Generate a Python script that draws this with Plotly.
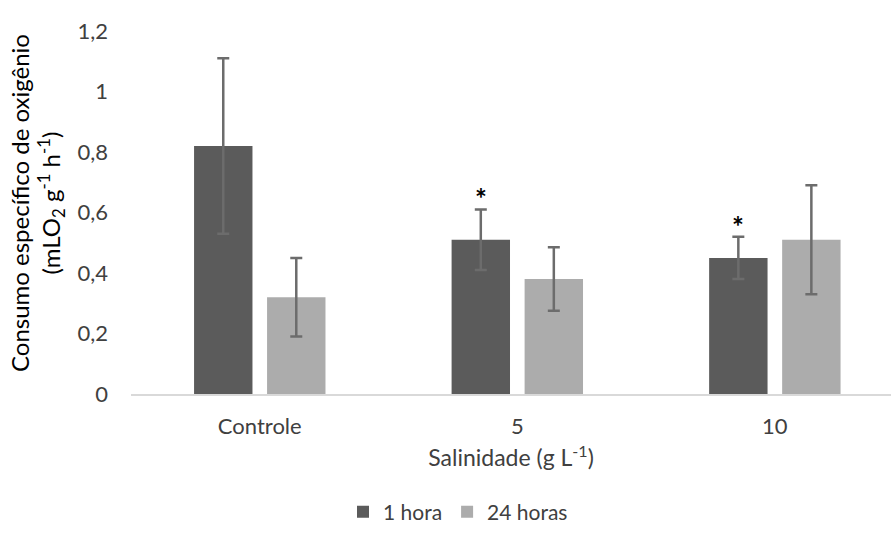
import plotly.graph_objects as go

# Oxygen consumption by salinity, measured after 1 h and 24 h
categories = ["Controle", "5", "10"]
series_names = ["1 hora", "24 horas"]
values_1h = [0.82, 0.51, 0.45]
errors_1h = [0.29, 0.10, 0.07]
values_24h = [0.32, 0.38, 0.51]
errors_24h = [0.13, 0.105, 0.18]
significant_1h = ["", "*", "*"]

y_ticks = [0, 0.2, 0.4, 0.6, 0.8, 1.0, 1.2]
y_tick_labels = ["0", "0,2", "0,4", "0,6", "0,8", "1", "1,2"]

FONT = "Lato"
TEXT = "#404040"
DARK = "#5b5b5b"
LIGHT = "#acacac"
ERR = "#6c6c6c"

fig = go.Figure()
for name, vals, errs, color in [
    (series_names[0], values_1h, errors_1h, DARK),
    (series_names[1], values_24h, errors_24h, LIGHT),
]:
    fig.add_trace(go.Bar(
        x=categories, y=vals, name=name,
        marker=dict(color=color, line=dict(width=0)),
        error_y=dict(type="data", array=errs, visible=True,
                     color=ERR, thickness=2.5, width=6),
    ))

# Significance marks above the 1-hour bars (x given as category index)
for i, (v, e, mark) in enumerate(zip(values_1h, errors_1h, significant_1h)):
    if mark:
        fig.add_annotation(x=i, y=v + e, xref="x", yref="y", text="<b>" + mark + "</b>",
                           showarrow=False, xshift=-36.5, yshift=-8,
                           yanchor="bottom",
                           font=dict(family=FONT, size=28, color="#000000"))

# Y-axis title, two rotated lines
fig.add_annotation(
    xref="paper", yref="paper", x=(37 - 131) / 760, y=(394 - 203) / 363,
    text="Consumo específico de oxigênio<br>(mLO<sub>2</sub> g<sup>-1</sup> h<sup>-1</sup>)",
    textangle=-90, showarrow=False, xanchor="center", yanchor="middle",
    align="center",
    font=dict(family=FONT, size=24, color="#000000"),
)

fig.update_layout(
    width=891, height=545,
    margin=dict(l=131, r=0, t=31, b=151),
    paper_bgcolor="white", plot_bgcolor="white",
    barmode="group", bargap=0.433, bargroupgap=0.2,
    font=dict(family=FONT, size=22, color=TEXT),
    showlegend=True,
    legend=dict(orientation="h", x=(458 - 131) / 760, y=-0.325, xanchor="center",
                yanchor="middle", font=dict(family=FONT, size=21, color=TEXT),
                itemwidth=30, tracegroupgap=0),
    xaxis=dict(type="category", range=[-0.5, 2.451], showgrid=False,
               showline=True, linecolor="#d9d9d9", linewidth=1.5,
               ticks="", ticklabelstandoff=12,
               tickfont=dict(family=FONT, size=22, color=TEXT),
               title=dict(text="Salinidade (g L<sup>-1</sup>)", standoff=12,
                          font=dict(family=FONT, size=23, color=TEXT))),
    yaxis=dict(range=[0, 1.2], tickvals=y_ticks, ticktext=y_tick_labels,
               showgrid=False, zeroline=False, showline=False, ticks="",
               ticklabelstandoff=22,
               tickfont=dict(family=FONT, size=22, color=TEXT)),
)

fig.write_html("out.html")
